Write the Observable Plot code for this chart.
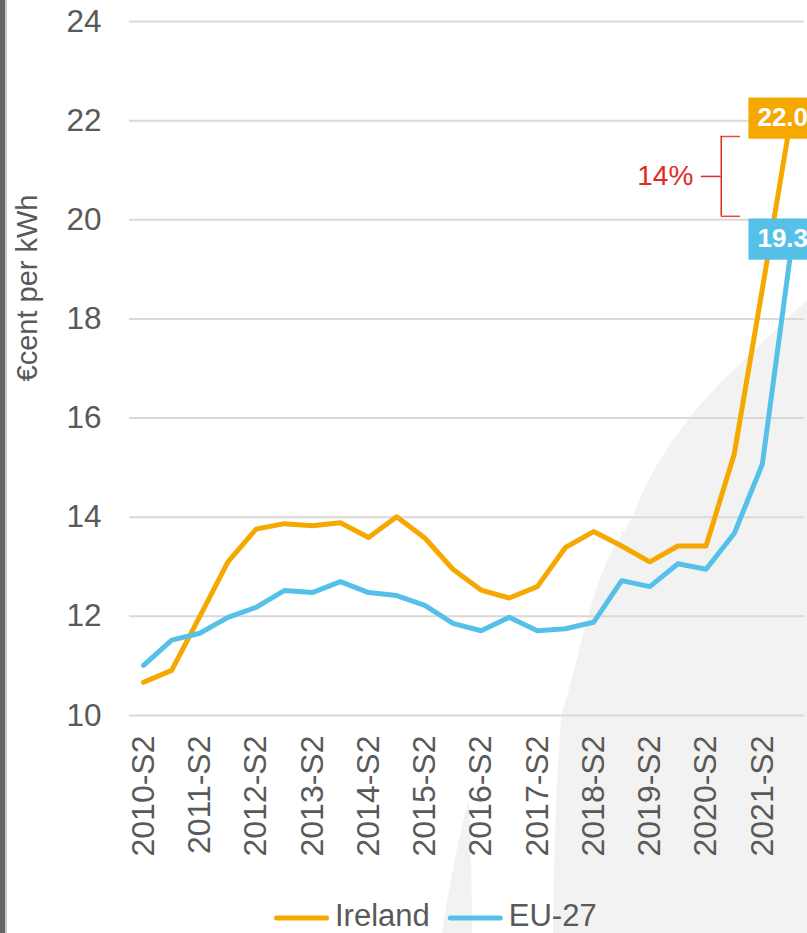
<!DOCTYPE html>
<html>
<head>
<meta charset="utf-8">
<script src="https://cdn.jsdelivr.net/npm/d3@7"></script>
<script src="https://cdn.jsdelivr.net/npm/@observablehq/plot@0.6"></script>
<style>
  html, body { margin: 0; padding: 0; background: #fff; overflow: hidden; }
  #wrap { position: relative; width: 807px; height: 933px; font-family: "Liberation Sans", Arial, sans-serif; overflow: hidden; }
  #bg { position: absolute; left: 0; top: 0; z-index: 0; }
  #chart { position: absolute; left: 0; top: 0; z-index: 1; }
  #legend { position: absolute; left: 0; top: 895px; z-index: 1; }
  #edge { position: absolute; left: 0; top: 0; width: 5px; height: 933px; background: #656565; border-right: 2px solid #c8c8c8; z-index: 2; }
</style>
</head>
<body>
<div id="wrap">
  <svg id="bg" width="807" height="933">
    <path d="M807,300 C760,345 715,385 690,417 C665,450 645,480 633,517 C625,530 618,540 612,550 C598,580 588,615 580,647 C572,680 566,700 562,713 C557,760 554,840 553,933 L807,933 Z" fill="#f2f2f2"/>
    <path d="M442,933 C450,880 460,830 469,800 C471,850 472,900 472,933 Z" fill="#f2f2f2"/>
  </svg>
  <div id="chart"></div>
  <svg id="legend" width="807" height="38"></svg>
  <div id="edge"></div>
</div>
<script>
// ---- data ----
const periods = [
  "2010-S2", "2011-S1", "2011-S2", "2012-S1", "2012-S2", "2013-S1", "2013-S2", "2014-S1",
  "2014-S2", "2015-S1", "2015-S2", "2016-S1", "2016-S2", "2017-S1", "2017-S2", "2018-S1",
  "2018-S2", "2019-S1", "2019-S2", "2020-S1", "2020-S2", "2021-S1", "2021-S2", "2022-S1"
];
const ireland = [
  10.67, 10.91, 12.00, 13.10, 13.76, 13.87, 13.83, 13.89,
  13.59, 14.01, 13.58, 12.95, 12.53, 12.37, 12.60, 13.39,
  13.71, 13.42, 13.10, 13.42, 13.42, 15.27, 18.60, 22.00
];
const eu27 = [
  11.01, 11.52, 11.66, 11.98, 12.18, 12.52, 12.48, 12.70,
  12.48, 12.42, 12.22, 11.86, 11.71, 11.98, 11.71, 11.75,
  11.88, 12.72, 12.60, 13.06, 12.95, 13.67, 15.07, 19.30
];
const seriesNames = ["Ireland", "EU-27"];
const seriesColors = ["#F5A800", "#56C1E8"];
const yTicks = [10, 12, 14, 16, 18, 20, 22, 24];
const xTickLabels = periods.filter(p => p.endsWith("S2"));
const yTitle = "€cent per kWh";

// ---- build ----
const seriesValues = [ireland, eu27];
const rows = seriesNames.flatMap((name, s) =>
  periods.map((p, i) => ({ i, period: p, series: name, value: seriesValues[s][i] }))
);
const lastIdx = periods.length - 1;
const lastRows = seriesNames.map((name, s) => ({ i: lastIdx, series: name, value: seriesValues[s][lastIdx] }));
const xTickIdx = xTickLabels.map(l => periods.indexOf(l));

const textColor = "#595959";
const red = "#e02b20";
const font = "'Liberation Sans', Arial, sans-serif";

// label box offsets (px) per series
const labelDy = { "Ireland": -2.5, "EU-27": -15.4 };
const boxSymbol = { draw(ctx) { ctx.moveTo(-42, -20.7); ctx.lineTo(42, -20.7); ctx.lineTo(42, 20.7); ctx.lineTo(-42, 20.7); ctx.closePath(); } };

// difference annotation
const pct = Math.round((ireland[lastIdx] - eu27[lastIdx]) / eu27[lastIdx] * 100) + "%";
const ann = { x: 20.54, xLeft: 19.83, xRight: 21.23, yTop: 21.68, yBottom: 20.07 };
ann.yMid = (ann.yTop + ann.yBottom) / 2;
ann.label = pct;

const color = d3.scaleOrdinal(seriesNames, seriesColors);

const labelMarks = lastRows.flatMap(d => [
  Plot.dot([d], { x: "i", y: "value", symbol: boxSymbol, fill: color(d.series), stroke: "none", dy: labelDy[d.series] }),
  Plot.text([d], { x: "i", y: "value", text: r => r.value.toFixed(1), dx: -33, dy: labelDy[d.series],
    textAnchor: "start", fill: "white", fontWeight: "bold", fontSize: 26, fontFamily: font })
]);

const chart = Plot.plot({
  width: 807,
  height: 895,
  marginLeft: 129,
  marginRight: 3,
  marginTop: 21,
  marginBottom: 180,
  style: { background: "transparent", fontFamily: font, color: textColor, overflow: "visible" },
  x: { type: "linear", domain: [-0.5, periods.length - 0.5] },
  y: { domain: [10, 24] },
  marks: [
    Plot.ruleY(yTicks, { stroke: "#d9d9d9", strokeWidth: 2 }),
    Plot.axisY({ ticks: yTicks, tickSize: 0, tickPadding: 28, label: null, fontSize: 31.5, fill: textColor, fontFamily: font }),
    Plot.axisX({ ticks: xTickIdx, tickFormat: i => periods[i], tickSize: 0, tickPadding: 20, tickRotate: -90,
      label: null, fontSize: 32, fill: textColor, fontFamily: font }),
    Plot.text([yTitle], { frameAnchor: "left", textAnchor: "middle", dx: -102, dy: -80.5, rotate: -90, fontSize: 29, fill: textColor, fontFamily: font }),
    Plot.line(rows, { x: "i", y: "value", z: "series", stroke: d => color(d.series), strokeWidth: 5,
      strokeLinejoin: "round", strokeLinecap: "round" }),
    // annotation bracket
    Plot.ruleX([ann], { x: "x", y1: "yTop", y2: "yBottom", stroke: red, strokeWidth: 1.5 }),
    Plot.ruleY([ann], { y: "yTop", x1: "x", x2: "xRight", stroke: red, strokeWidth: 1.5, strokeOpacity: 0.85 }),
    Plot.ruleY([ann], { y: "yBottom", x1: "x", x2: "xRight", stroke: red, strokeWidth: 1.5, strokeOpacity: 0.85 }),
    Plot.ruleY([ann], { y: "yMid", x1: "xLeft", x2: "x", stroke: red, strokeWidth: 1.5 }),
    Plot.text([ann], { x: "xLeft", y: "yMid", text: "label", textAnchor: "end", dx: -8, fontSize: 28, fill: red, fontFamily: font }),
    ...labelMarks
  ]
});
document.getElementById("chart").appendChild(chart);

// ---- legend ----
const leg = d3.select("#legend");
let lx = 274;
seriesNames.forEach((name, s) => {
  leg.append("line").attr("x1", lx + 2.5).attr("x2", lx + 52.5).attr("y1", 23).attr("y2", 23)
    .attr("stroke", seriesColors[s]).attr("stroke-width", 5).attr("stroke-linecap", "round");
  const t = leg.append("text").attr("x", lx + 61).attr("y", 31).attr("fill", textColor)
    .attr("font-family", font).attr("font-size", 31).text(name);
  lx = lx + 61 + t.node().getComputedTextLength() + 18;
});
</script>
</body>
</html>
